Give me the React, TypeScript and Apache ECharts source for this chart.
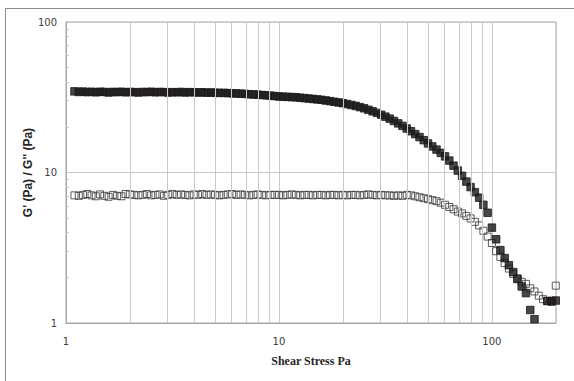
import React, { useEffect, useRef } from "react";
import * as echarts from "echarts";

// Shear stress (Pa)
const STRESS = [
  1.096, 1.148, 1.202, 1.259, 1.318, 1.38, 1.445, 1.514, 1.585, 1.66, 1.738, 1.82, 1.905, 1.995,
  2.089, 2.188, 2.291, 2.399, 2.512, 2.63, 2.754, 2.884, 3.02, 3.162, 3.311, 3.467, 3.631, 3.802,
  3.981, 4.169, 4.365, 4.571, 4.786, 5.012, 5.248, 5.495, 5.754, 6.026, 6.31, 6.607, 6.918, 7.244,
  7.586, 7.943, 8.318, 8.71, 9.12, 9.55,
  10.0, 10.47, 10.96, 11.48, 12.02, 12.59, 13.18, 13.8, 14.45, 15.14, 15.85, 16.6, 17.38, 18.2,
  19.05, 19.95, 20.89, 21.88, 22.91, 23.99, 25.12, 26.3, 27.54, 28.84, 30.2, 31.62, 33.11, 34.67,
  36.31, 38.02,
  39.81, 41.69, 43.65, 45.71, 47.86, 50.12, 52.48, 54.95, 57.54, 60.26, 63.1, 66.07, 69.18, 72.44,
  75.86, 79.43, 83.18, 87.1, 91.2, 95.5,
  100.0, 104.7, 109.6, 114.8, 120.2, 125.9, 131.8, 138.0, 144.5, 151.4, 158.5, 166.0, 173.8, 182.0,
  190.5, 199.5,
];

// G' (Pa) - filled squares
const G_PRIME: (number | null)[] = [
  34.6, 34.3, 34.5, 34.2, 34.4, 34.1, 34.4, 34.3, 34.0, 34.3, 34.2, 34.4, 34.1, 34.3, 34.2, 34.0,
  34.3, 34.2, 34.4, 34.1, 34.3, 34.2, 34.0, 34.2,
  34.1, 34.3, 34.0, 34.2, 34.1, 34.0, 34.1, 33.9, 34.0, 33.9, 33.8, 33.8, 33.7, 33.6, 33.5, 33.4,
  33.3, 33.1, 33.0, 32.9, 32.7, 32.6, 32.4, 32.2,
  32.0, 31.9, 31.8, 31.7, 31.6, 31.4, 31.2, 31.0, 30.8, 30.6, 30.4, 30.1, 29.8, 29.5, 29.2, 28.9,
  28.5, 28.1, 27.7, 27.2, 26.7, 26.1, 25.5, 24.9, 24.2, 23.5, 22.8, 22.0, 21.2, 20.4,
  19.6, 18.8, 18.0, 17.2, 16.4, 15.6, 14.9, 14.2, 13.5, 12.8, 12.0, 11.1, 10.3, 9.5, 8.7, 8.0,
  7.4, 6.8, 6.1, 5.4,
  4.3, 3.6, 3.05, 2.7, 2.42, 2.18, 1.96, 1.75, 1.58, 1.22, 1.06, null, null, 1.4, 1.4, 1.41,
];

// G'' (Pa) - open squares
const G_DOUBLE: (number | null)[] = [
  7.05, 7.0, 7.1, 7.2, 7.05, 6.95, 7.15, 7.0, 6.9, 7.1, 7.0, 6.95, 7.2, 7.15, 7.1, 7.05, 7.1, 7.2,
  7.05, 7.1, 7.15, 7.0, 7.1, 7.2,
  7.1, 7.15, 7.1, 7.05, 7.15, 7.1, 7.2, 7.1, 7.15, 7.1, 7.05, 7.1, 7.15, 7.2, 7.1, 7.15, 7.1, 7.05,
  7.1, 7.15, 7.1, 7.05, 7.1, 7.1,
  7.1, 7.05, 7.1, 7.15, 7.1, 7.05, 7.1, 7.1, 7.05, 7.1, 7.1, 7.05, 7.1, 7.1, 7.05, 7.1, 7.05, 7.1,
  7.1, 7.05, 7.1, 7.15, 7.1, 7.05, 7.1, 7.05, 7.05, 7.0, 7.05, 7.0,
  7.1, 7.05, 6.95, 6.85, 6.75, 6.65, 6.55, 6.45, 6.3, 6.1, 5.9, 5.7, 5.5, 5.35, 5.15, 4.95, 4.7,
  4.45, 4.1, 3.75,
  3.4, 3.0, 2.75, 2.5, 2.3, 2.12, 1.98, 1.88, 1.82, 1.7, 1.62, 1.52, 1.44, 1.4, 1.38, 1.77,
];

const X_TICK_LABELS = [1, 10, 100];
const X_MINOR_GRID = [2, 3, 4, 5, 6, 7, 8, 9, 20, 30, 40, 50, 60, 70, 80, 90];
const Y_MINOR_TICKS = [2, 3, 4, 5, 6, 7, 8, 9, 20, 30, 40, 50, 60, 70, 80, 90];

export default function App() {
  const ref = useRef<HTMLDivElement>(null);

  useEffect(() => {
    if (!ref.current) return;
    const chart = echarts.init(ref.current, null, { renderer: "svg" });

    const openData = STRESS.map((x, i) => [x, G_DOUBLE[i]]).filter((p) => p[1] != null);
    const filledData = STRESS.map((x, i) => [x, G_PRIME[i]]).filter((p) => p[1] != null);

    const tickStyle = { color: "#404040", fontFamily: "DejaVu Sans", fontSize: 10 };

    chart.setOption({
      animation: false,
      backgroundColor: "#ffffff",
      grid: {
        left: 66,
        top: 22,
        right: 18,
        bottom: 58,
        show: true,
        borderColor: "#a6a6a6",
        borderWidth: 1,
        backgroundColor: "transparent",
      },
      graphic: [
        {
          type: "rect",
          silent: true,
          shape: { x: 5.5, y: 8.5, width: 620, height: 420 },
          style: { fill: "none", stroke: "#8c8c8c", lineWidth: 1 },
        },
      ],
      xAxis: {
        type: "log",
        logBase: 10,
        min: 1,
        max: 200,
        axisLine: { show: true, lineStyle: { color: "#a6a6a6", width: 1 } },
        axisTick: { show: false },
        axisLabel: {
          ...tickStyle,
          margin: 13,
          formatter: (v: number) => {
            const r = Math.round(v);
            return X_TICK_LABELS.includes(r) && Math.abs(v - r) < 1e-6 * r + 1e-6 ? String(r) : "";
          },
        },
        splitLine: { show: true, lineStyle: { color: "#c8c8c8", width: 1 } },
        name: "Shear Stress Pa",
        nameLocation: "middle",
        nameGap: 32,
        nameMoveOverlap: false,
        nameTextStyle: {
          fontFamily: "Liberation Serif",
          fontWeight: "bold",
          fontSize: 12,
          color: "#262626",
        },
      },
      yAxis: {
        type: "log",
        logBase: 10,
        min: 1,
        max: 100,
        axisLine: { show: true, lineStyle: { color: "#a6a6a6", width: 1 } },
        axisTick: { show: false },
        axisLabel: { ...tickStyle, margin: 9 },
        splitLine: { show: true, lineStyle: { color: "#c8c8c8", width: 1 } },
        name: "G' (Pa) / G'' (Pa)",
        nameLocation: "middle",
        nameGap: 32,
        nameMoveOverlap: false,
        nameTextStyle: {
          fontFamily: "Liberation Sans",
          fontWeight: "bold",
          fontSize: 12,
          color: "#262626",
        },
      },
      series: [
        {
          type: "line",
          data: [],
          silent: true,
          z: 1,
          markLine: {
            silent: true,
            symbol: ["none", "none"],
            label: { show: false },
            lineStyle: { color: "#c8c8c8", type: "solid", width: 1 },
            emphasis: { disabled: true },
            data: [
              ...X_MINOR_GRID.map((v) => ({ xAxis: v })),
              ...Y_MINOR_TICKS.map((v) => [
                { coord: [1, v] },
                { coord: [1.035, v] },
              ]),
            ],
          },
        },
        {
          name: "G''",
          type: "scatter",
          symbol: "rect",
          symbolSize: 7,
          z: 3,
          itemStyle: { color: "rgba(255,255,255,0)", borderColor: "#333333", borderWidth: 1 },
          data: openData,
        },
        {
          name: "G'",
          type: "scatter",
          symbol: "rect",
          symbolSize: 7.5,
          z: 4,
          itemStyle: { color: "#1a1818", borderColor: "#1a1818", borderWidth: 1 },
          data: filledData,
        },
      ],
    });

    return () => chart.dispose();
  }, []);

  return (
    <div
      ref={ref}
      style={{ position: "fixed", left: 0, top: 0, width: 574, height: 381 }}
    />
  );
}
